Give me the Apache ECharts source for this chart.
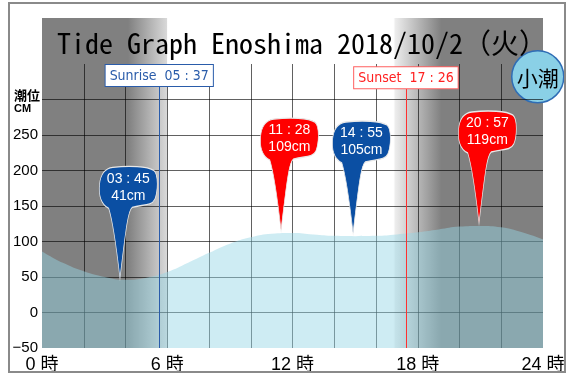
<!DOCTYPE html>
<html>
<head>
<meta charset="utf-8">
<script src="https://cdn.jsdelivr.net/npm/echarts@6/dist/echarts.min.js"></script>
<style>
  html, body { margin: 0; padding: 0; background: #fff; }
  #chart { width: 573px; height: 376px; }
</style>
</head>
<body>
<div id="chart"></div>
<script>
// 潮位データ（1時間ごと）
const hours = [0, 1, 2, 3, 4, 5, 6, 7, 8, 9, 10, 11, 12, 13, 14, 15, 16, 17, 18, 19, 20, 21, 22, 23, 24]
const tideCm = [86, 70, 58, 50, 46, 49, 57, 70, 84, 97, 106, 111, 112, 110, 108, 107.5, 108, 110, 113, 117, 121, 122, 120, 113, 103]

// 満潮・干潮
const extremeTimes = ['03:45', '11:28', '14:55', '20:57']
const extremeCm = [41, 109, 105, 119]
const extremeKind = ['low', 'high', 'low', 'high']

// 日の出・日の入り
const sunrise = '05:37'
const sunset = '17:26'

const xLabelHours = [0, 6, 12, 18, 24]
const yLabelValues = [-50, 0, 50, 100, 150, 200, 250]

const toHour = (t) => {
  const [h, m] = t.split(':').map(Number)
  return h + m / 60
}
const sp = (t) => t.replace(':', ' : ')

const riseH = toHour(sunrise)
const setH = toHour(sunset)

// 昼夜の背景グラデーション
const gray = '#808080'
const dayNight = new echarts.graphic.LinearGradient(0, 0, 1, 0, [
  { offset: 0, color: gray },
  { offset: (riseH - 1.5) / 24, color: gray },
  { offset: (riseH + 0.35) / 24, color: '#d8d8d8' },
  { offset: (riseH + 0.4) / 24, color: '#ffffff' },
  { offset: (setH - 0.6) / 24, color: '#ffffff' },
  { offset: (setH - 0.5) / 24, color: '#ececec' },
  { offset: (setH + 1.7) / 24, color: gray },
  { offset: 1, color: gray }
])

// 吹き出しピン
const pinPath = 'path://M14 1C30 -1 48 0 54 4C59 8 58 26 55 33C52 40 42 38 33 41C29 44 27 60 21 112C18 85 14 55 10 42C2 38 0 28 1 18C2 8 6 2 14 1Z'

const pins = extremeTimes.map((t, i) => ({
  coord: [toHour(t), extremeCm[i]],
  value: sp(t) + '\n' + extremeCm[i] + 'cm',
  itemStyle: { color: extremeKind[i] === 'high' ? '#ff0000' : '#0b4fa3' }
}))

const monoFont = "'Noto Sans Mono CJK JP', 'Noto Sans CJK JP', 'Liberation Mono', monospace"
const narrowFont = "'Liberation Sans Narrow', 'DejaVu Sans Condensed', 'Roboto', sans-serif"

const chartConfig = {
  animation: false,
  title: {
    text: 'Tide Graph Enoshima 2018/10/2（火）',
    left: 302,
    top: 29,
    textAlign: 'center',
    padding: 0,
    textStyle: {
      fontFamily: monoFont,
      fontSize: 28,
      fontWeight: 'normal',
      color: '#000'
    }
  },
  grid: [
    // 背景（昼夜）
    { left: 42, right: 30, top: 18, bottom: 28, show: true, backgroundColor: dayNight, borderWidth: 0 },
    // 潮位グラフ
    { left: 42, right: 30, top: 64, bottom: 28 }
  ],
  xAxis: [
    { gridIndex: 0, type: 'value', min: 0, max: 24, show: false },
    {
      gridIndex: 1,
      type: 'value',
      min: 0,
      max: 24,
      interval: 2,
      axisLine: { show: false },
      axisTick: { show: false },
      axisLabel: {
        margin: 8,
        fontSize: 18,
        color: '#000',
        fontFamily: "'Liberation Sans', 'Noto Sans CJK JP', sans-serif",
        formatter: (v) => (xLabelHours.includes(v) ? v + ' 時' : '')
      },
      splitLine: {
        showMinLine: false,
        showMaxLine: false,
        lineStyle: { color: 'rgba(0,0,0,0.62)', width: 1 }
      }
    }
  ],
  yAxis: [
    { gridIndex: 0, type: 'value', min: 0, max: 1, show: false },
    {
      gridIndex: 1,
      type: 'value',
      min: -50,
      max: 350,
      interval: 50,
      axisLine: { show: false },
      axisTick: { show: false },
      axisLabel: {
        margin: 4,
        fontSize: 15,
        color: '#000',
        fontFamily: "'Liberation Sans', sans-serif",
        formatter: (v) => (yLabelValues.includes(v) ? String(v).replace('-', '−') : '')
      },
      splitLine: {
        showMinLine: false,
        showMaxLine: false,
        lineStyle: { color: 'rgba(0,0,0,0.62)', width: 1 }
      }
    }
  ],
  graphic: [
    // 外枠
    {
      type: 'rect',
      shape: { x: 9, y: 3, width: 556, height: 369 },
      style: { fill: 'none', stroke: '#8a8a8a', lineWidth: 2 },
      z: 10
    },
    // 潮位 CM
    {
      type: 'text',
      left: 14,
      top: 89,
      style: {
        text: '{a|潮位}\n{b|CM}',
        rich: {
          a: { fontSize: 13, fontWeight: 'bold', fontFamily: "'Noto Sans CJK JP'", lineHeight: 14, fill: '#000' },
          b: { fontSize: 11, fontWeight: 'bold', fontFamily: "'Liberation Sans'", lineHeight: 12, fill: '#000' }
        }
      },
      z: 10
    },
    // 小潮
    {
      type: 'group',
      left: 511,
      top: 50,
      z: 20,
      children: [
        {
          type: 'circle',
          shape: { cx: 26, cy: 26, r: 26 },
          style: { fill: '#8ad0e6', stroke: '#2f6db5', lineWidth: 1.5 }
        },
        {
          type: 'text',
          x: 26,
          y: 27,
          style: {
            text: '小潮',
            fontSize: 21,
            fontFamily: "'Noto Sans CJK JP'",
            fill: '#000',
            align: 'center',
            verticalAlign: 'middle'
          }
        }
      ]
    }
  ],
  series: [
    {
      name: '潮位',
      type: 'line',
      xAxisIndex: 1,
      yAxisIndex: 1,
      data: hours.map((h, i) => [h, tideCm[i]]),
      smooth: true,
      showSymbol: false,
      lineStyle: { width: 0 },
      areaStyle: { color: 'rgba(150,213,230,0.66)', origin: 'start' },
      markLine: {
        silent: true,
        symbol: 'none',
        data: [
          [
            {
              coord: [riseH, -50],
              lineStyle: { color: '#2a5caa', width: 1, type: 'solid' },
              label: {
                formatter: 'Sunrise  ' + sp(sunrise),
                color: '#2a5caa',
                borderColor: '#2a5caa'
              }
            },
            { coord: [riseH, 319] }
          ],
          [
            {
              coord: [setH, -50],
              lineStyle: { color: '#ff3030', width: 1, type: 'solid' },
              label: {
                formatter: 'Sunset  ' + sp(sunset),
                color: '#ff2020',
                borderColor: '#ff6060'
              }
            },
            { coord: [setH, 316] }
          ]
        ],
        label: {
          show: true,
          position: 'end',
          distance: 0,
          backgroundColor: '#fff',
          borderWidth: 1,
          padding: [4, 4, 3, 4],
          fontSize: 14,
          fontFamily: narrowFont
        }
      },
      markPoint: {
        silent: true,
        symbol: pinPath,
        symbolSize: [58, 112],
        symbolOffset: [8, -61],
        itemStyle: { borderColor: '#e8e8e8', borderWidth: 1 },
        label: {
          show: true,
          position: ['50%', '19%'],
          align: 'center',
          verticalAlign: 'middle',
          color: '#fff',
          fontSize: 14,
          lineHeight: 17,
          fontFamily: "'Liberation Sans', 'Roboto', sans-serif",
          formatter: (p) => p.value
        },
        data: pins
      }
    }
  ]
}

const chart = echarts.init(document.getElementById('chart'), null, { renderer: 'canvas' })
chart.setOption(chartConfig)
</script>
</body>
</html>
